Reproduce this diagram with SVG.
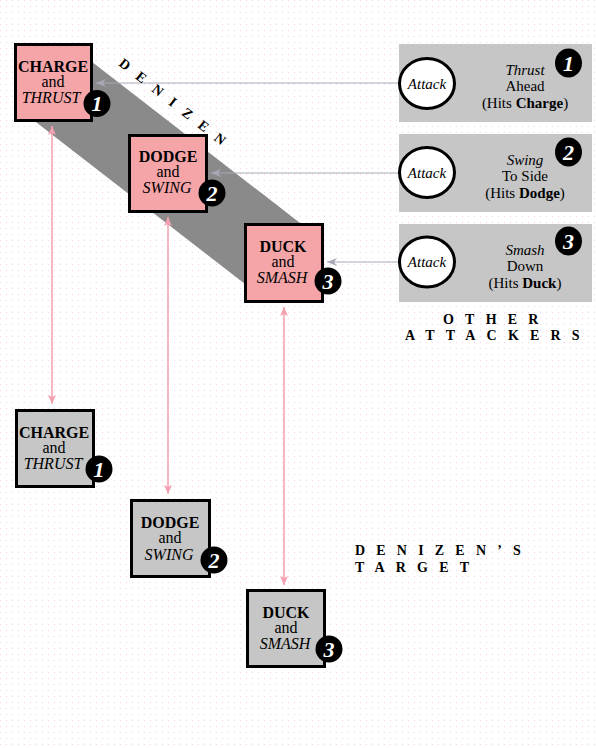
<svg xmlns="http://www.w3.org/2000/svg" width="596" height="748" viewBox="0 0 596 748">
<style>
text{font-family:"Liberation Serif","Tinos","Times New Roman","DejaVu Serif",serif;fill:#000;font-weight:400}
.b{font-weight:700;font-size:16px;text-anchor:middle}
.r{font-size:16px;text-anchor:middle}
.i{font-style:italic;font-size:16px;text-anchor:middle}
.pt{font-size:15px;text-anchor:middle}
.pti{font-size:15px;font-style:italic;text-anchor:middle}
.num{font-weight:700;font-style:italic;font-size:22px;fill:#fff;text-anchor:middle}
.pink{fill:#f5a5a8;stroke:#000;stroke-width:3}
.grey{fill:#c6c6c6;stroke:#000;stroke-width:3}
.panel{fill:#c6c6c6}
.att{fill:#fff;stroke:#000;stroke-width:3}
.badge{fill:#000}
.cap{font-weight:700;font-size:14px;letter-spacing:11.2px}
.gl{stroke:#a8a8b8;stroke-width:1;fill:none}
.pl{stroke:#f4a0b0;stroke-width:1.5;fill:none}
</style>
<defs>
<pattern id="dots" width="6" height="6" patternUnits="userSpaceOnUse">
<rect x="0" y="0" width="1" height="1" fill="#f6d0e6"/>
</pattern>
<marker id="ga" markerUnits="userSpaceOnUse" markerWidth="12" markerHeight="10" refX="10" refY="5" orient="auto">
<path d="M0,1 L10,5 L0,9 L3,5 Z" fill="#a8a8b8"/>
</marker>
<marker id="pa" markerUnits="userSpaceOnUse" markerWidth="10" markerHeight="10" refX="9" refY="4.5" orient="auto-start-reverse">
<path d="M0,0.5 L9,4.5 L0,8.5 L2,4.5 Z" fill="#f4a0b0"/>
</marker>
</defs>
<rect width="596" height="748" fill="#fff"/>
<rect width="596" height="748" fill="url(#dots)"/>

<polygon id="band" points="85,56.6 310,230.7 260,295.6 30,117.6" fill="#8a8a8a"/>

<g id="connectors">
<line class="gl" x1="398" y1="83" x2="96" y2="83" marker-end="url(#ga)"/>
<line class="gl" x1="398" y1="173" x2="211" y2="173" marker-end="url(#ga)"/>
<line class="gl" x1="398" y1="262" x2="327" y2="262" marker-end="url(#ga)"/>
<line class="pl" x1="52" y1="126" x2="52" y2="404" marker-start="url(#pa)" marker-end="url(#pa)"/>
<line class="pl" x1="168" y1="217" x2="168" y2="494" marker-start="url(#pa)" marker-end="url(#pa)"/>
<line class="pl" x1="284" y1="307" x2="284" y2="585" marker-start="url(#pa)" marker-end="url(#pa)"/>
</g>

<text id="denizen-label" class="cap" font-size="14.5" transform="translate(118,65) rotate(38)">DENIZEN</text>

<g id="den-charge">
<rect class="pink" x="15.5" y="44.5" width="76" height="76"/>
<text class="b" x="53" y="72">CHARGE</text>
<text class="r" x="53" y="87">and</text>
<text class="i" x="51" y="103">THRUST</text>
<circle class="badge" cx="97" cy="103.5" r="13.5"/>
<text class="num" x="97" y="111">1</text>
</g>
<g id="den-dodge">
<rect class="pink" x="129.5" y="135.5" width="77" height="76"/>
<text class="b" x="168" y="162">DODGE</text>
<text class="r" x="168" y="177">and</text>
<text class="i" x="167" y="193">SWING</text>
<circle class="badge" cx="212" cy="193" r="13.5"/>
<text class="num" x="212" y="200.5">2</text>
</g>
<g id="den-duck">
<rect class="pink" x="245.5" y="224.5" width="77" height="77"/>
<text class="b" x="283" y="252">DUCK</text>
<text class="r" x="283" y="267">and</text>
<text class="i" x="282" y="283">SMASH</text>
<circle class="badge" cx="328" cy="281" r="13.5"/>
<text class="num" x="328" y="288.5">3</text>
</g>

<g id="tgt-charge">
<rect class="grey" x="16.5" y="410.5" width="77" height="76"/>
<text class="b" x="54" y="438">CHARGE</text>
<text class="r" x="54" y="453">and</text>
<text class="i" x="53" y="469">THRUST</text>
<circle class="badge" cx="99" cy="469" r="13.5"/>
<text class="num" x="99" y="476.5">1</text>
</g>
<g id="tgt-dodge">
<rect class="grey" x="131.5" y="500.5" width="78" height="76"/>
<text class="b" x="170" y="528">DODGE</text>
<text class="r" x="170" y="543">and</text>
<text class="i" x="169" y="560">SWING</text>
<circle class="badge" cx="214" cy="560" r="13.5"/>
<text class="num" x="214" y="567.5">2</text>
</g>
<g id="tgt-duck">
<rect class="grey" x="247.5" y="590.5" width="77" height="76"/>
<text class="b" x="286" y="618">DUCK</text>
<text class="r" x="286" y="633">and</text>
<text class="i" x="285" y="649">SMASH</text>
<circle class="badge" cx="329" cy="649" r="13.5"/>
<text class="num" x="329" y="656.5">3</text>
</g>

<g id="attacker-1">
<rect class="panel" x="399" y="44" width="193" height="78"/>
<ellipse class="att" cx="427" cy="83.5" rx="27.5" ry="25"/>
<text class="pti" x="427" y="88.5">Attack</text>
<text class="pti" x="525" y="75">Thrust</text>
<text class="pt" x="525" y="91">Ahead</text>
<text class="pt" x="525" y="108">(Hits <tspan font-weight="700">Charge</tspan>)</text>
<ellipse class="badge" cx="568.5" cy="63" rx="13.5" ry="14.5"/>
<text class="num" x="568.5" y="71">1</text>
</g>
<g id="attacker-2">
<rect class="panel" x="399" y="134" width="193" height="78"/>
<ellipse class="att" cx="427" cy="172.5" rx="27.5" ry="25"/>
<text class="pti" x="427" y="177.5">Attack</text>
<text class="pti" x="525" y="165">Swing</text>
<text class="pt" x="525" y="181">To Side</text>
<text class="pt" x="525" y="198">(Hits <tspan font-weight="700">Dodge</tspan>)</text>
<ellipse class="badge" cx="568.5" cy="152" rx="13.5" ry="14.5"/>
<text class="num" x="568.5" y="160">2</text>
</g>
<g id="attacker-3">
<rect class="panel" x="399" y="224" width="193" height="78"/>
<ellipse class="att" cx="427" cy="262" rx="27.5" ry="25"/>
<text class="pti" x="427" y="267">Attack</text>
<text class="pti" x="525" y="255">Smash</text>
<text class="pt" x="525" y="271">Down</text>
<text class="pt" x="525" y="288">(Hits <tspan font-weight="700">Duck</tspan>)</text>
<ellipse class="badge" cx="568.5" cy="241" rx="13.5" ry="14.5"/>
<text class="num" x="568.5" y="249">3</text>
</g>

<text class="cap" x="443" y="324">OTHER</text>
<text class="cap" x="405" y="340">ATTACKERS</text>
<text class="cap" x="355" y="555">DENIZEN’S</text>
<text class="cap" x="355" y="572">TARGET</text>
</svg>
